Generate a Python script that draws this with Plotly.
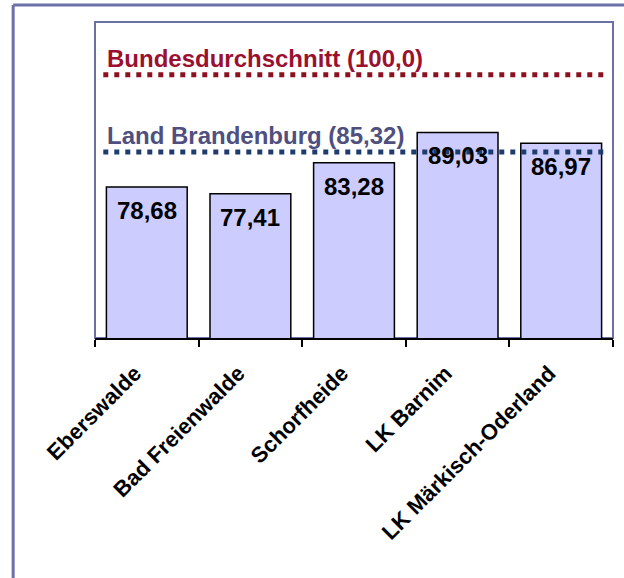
import plotly.graph_objects as go

categories = ["Eberswalde", "Bad Freienwalde", "Schorfheide", "LK Barnim", "LK Märkisch-Oderland"]
values = [78.68, 77.41, 83.28, 89.03, 86.97]
value_labels = ["78,68", "77,41", "83,28", "89,03", "86,97"]
ref_values = [100.0, 85.32]
ref_labels = ["Bundesdurchschnitt (100,0)", "Land Brandenburg (85,32)"]
ref_text_colors = ["#9b1030", "#4f4f80"]
ref_line_colors = ["#8b1020", "#1f3c6e"]

FONT = "Liberation Sans, Arial, sans-serif"
FRAME = "#6c70a8"

fig = go.Figure()
fig.add_trace(go.Bar(
    x=categories, y=values,
    marker=dict(color="#ccccff", line=dict(color="black", width=1.5)),
    hoverinfo="skip",
))

for cat, v, lab in zip(categories, values, value_labels):
    fig.add_annotation(x=cat, y=v, text=f"<b>{lab}</b>", showarrow=False,
                       yanchor="top", yshift=-8,
                       font=dict(family=FONT, size=24, color="black"))

for v, lab, tc, lc in zip(ref_values, ref_labels, ref_text_colors, ref_line_colors):
    fig.add_shape(type="line", xref="paper", yref="y", x0=0.016, x1=0.99, y0=v, y1=v,
                  line=dict(color=lc, width=5, dash="5px,6px"), layer="above")
    fig.add_annotation(xref="paper", yref="y", x=0.02, y=v, text=f"<b>{lab}</b>",
                       showarrow=False, xanchor="left", yanchor="bottom", yshift=1,
                       font=dict(family=FONT, size=24, color=tc))

# inner frame
fig.add_shape(type="rect", xref="paper", yref="paper", x0=0, x1=1, y0=0, y1=1,
              line=dict(color=FRAME, width=2), layer="below")
# outer frame (only its top and left edges fall inside the picture)
fig.add_shape(type="line", xref="paper", yref="paper", x0=-0.158, x1=1.2, y0=1.054, y1=1.054,
              line=dict(color=FRAME, width=3), layer="below")
fig.add_shape(type="line", xref="paper", yref="paper", x0=-0.158, x1=-0.158, y0=1.054, y1=-0.9,
              line=dict(color=FRAME, width=3), layer="below")

fig.update_layout(
    template="none",
    width=624, height=578,
    margin=dict(l=95, r=11, t=22, b=240, autoexpand=False),
    paper_bgcolor="white", plot_bgcolor="white",
    showlegend=False, bargap=0.22,
    font=dict(family=FONT),
)
fig.update_xaxes(
    range=[-0.5, 4.5], showline=True, linecolor="black", linewidth=1.5,
    ticks="outside", tickson="boundaries", ticklen=7, tickcolor="black", tickwidth=1.5,
    tickangle=-45, tickfont=dict(family=FONT, size=22, color="black"),
    ticklabelshift=-12, ticklabelstandoff=12, automargin=False,
    showgrid=False, zeroline=False,
    tickvals=categories, ticktext=[f"<b>{c}</b>" for c in categories],
)
fig.update_yaxes(range=[50, 110], visible=False, showgrid=False, automargin=False)

fig.write_html("out.html")
